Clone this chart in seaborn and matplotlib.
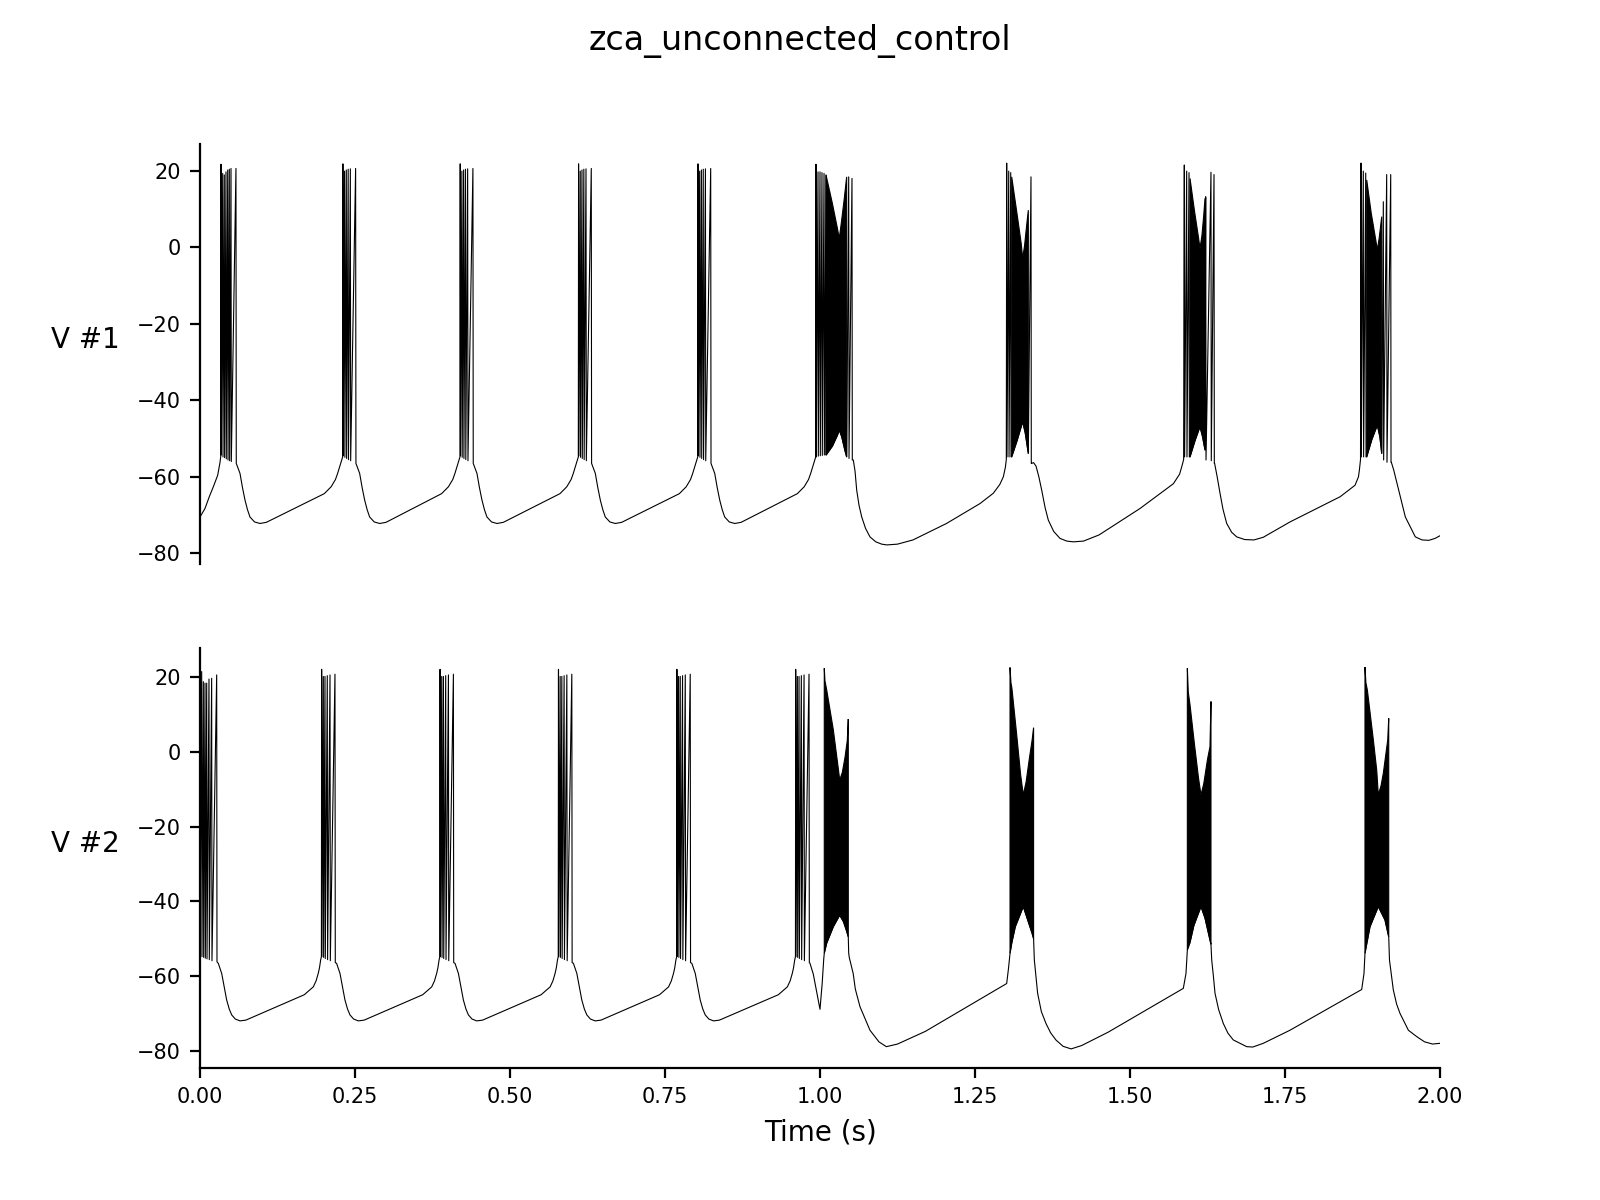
import numpy as np
import matplotlib
matplotlib.use("Agg")
import matplotlib.pyplot as plt
import seaborn as sns

# ---------------- text ----------------
TITLE = "zca_unconnected_control"
YLABELS = ["V #1", "V #2"]
XLABEL = "Time (s)"
XTICKS = [0.0, 0.25, 0.5, 0.75, 1.0, 1.25, 1.5, 1.75, 2.0]
YTICKS = [20, 0, -20, -40, -60, -80]

# ================= trace V #1 =================
v1_start_t = [0.0, 0.008, 0.015, 0.022, 0.0285, 0.032, 0.0334]
v1_start_v = [-70.5, -68.3, -65.2, -62.4, -59.6, -56.5, -54.8]

v1_burst1_t = [0.0339, 0.0366, 0.0392, 0.0419, 0.0447, 0.0473, 0.0500, 0.0580]
v1_burst1_peak = [21.7, 19.3, 18.9, 19.7, 20.2, 20.4, 20.6, 20.6]
v1_burst1_trough = [-54.3, -54.8, -55.0, -55.3, -55.6, -55.8, -56.0, -56.5]

# regular bursts 2-5 (shape, placed at each onset)
v1_reg_onsets = [0.2305, 0.4197, 0.6106, 0.8032]
v1_reg_spike_dt = [0.0, 0.0027, 0.0055, 0.0085, 0.0120, 0.0205]
v1_reg_peak = [21.8, 19.9, 20.2, 20.4, 20.5, 20.6]
v1_reg_trough = [-54.5, -54.9, -55.2, -55.5, -55.8, -56.5]

# after-burst fall (relative to last spike) for bursts 1-5
v1_fall_dt = [0.0035, 0.0065, 0.0105, 0.0146, 0.0186, 0.0226, 0.030, 0.0388, 0.049]
v1_fall_v = [-57.8, -59.1, -62.8, -66.1, -68.6, -70.5, -71.8, -72.2, -71.9]
# pre-burst rise (relative to onset) for bursts 2-6
v1_rise_onsets = [0.2305, 0.4197, 0.6106, 0.8032, 0.9935]
v1_rise_dt = [-0.030, -0.019, -0.012, -0.0085, -0.005, -0.002, -0.0004]
v1_rise_v = [-64.4, -62.6, -60.7, -59.1, -57.2, -55.6, -54.8]

# long bursts 6-9: separate spikes
v1_long_spike_t = [0.9935, 0.9968, 1.0000, 1.0032, 1.0065, 1.0097, 1.0463, 1.0516,
                   1.3011, 1.3044, 1.3076, 1.3403,
                   1.5876, 1.5914, 1.5952, 1.6221, 1.6306, 1.6355,
                   1.8726, 1.8763, 1.8802, 1.9086, 1.9140, 1.9205]
v1_long_spike_peak = [21.7, 19.7, 19.7, 19.5, 19.3, 18.9, 18.4, 18.0,
                      22.0, 19.9, 19.5, 18.4,
                      21.5, 19.9, 19.5, 13.2, 19.6, 19.0,
                      22.0, 19.9, 19.4, 11.9, 19.0, 19.0]
v1_long_spike_trough = [-54.8, -54.6, -54.5, -54.4, -54.3, -54.3, -55.2, -55.6,
                        -54.8, -54.8, -54.8, -56.5,
                        -54.8, -54.8, -54.8, -55.6, -55.8, -56.5,
                        -54.8, -54.8, -54.8, -55.6, -56.2, -56.2]

# long bursts 6-9: dense spiking envelopes
v1_band_up_t = [[1.0097, 1.0199, 1.0280, 1.0311, 1.0345, 1.0390, 1.0430],
                [1.3092, 1.3180, 1.3245, 1.3269, 1.3300, 1.3335, 1.3360],
                [1.5968, 1.6040, 1.6105, 1.6129, 1.6160, 1.6190, 1.6210],
                [1.8818, 1.8890, 1.8965, 1.8989, 1.9020, 1.9060]]
v1_band_up_v = [[18.9, 11.5, 5.0, 2.3, 6.5, 12.5, 18.4],
                [18.4, 8.5, 1.0, -2.9, 0.5, 6.0, 9.7],
                [18.0, 9.5, 2.5, -0.3, 3.0, 8.5, 12.8],
                [17.6, 9.0, 1.8, -0.7, 2.5, 8.0]]
v1_band_lo_t = [[1.0097, 1.0200, 1.0280, 1.0311, 1.0350, 1.0400, 1.0430],
                [1.3092, 1.3180, 1.3269, 1.3310, 1.3360],
                [1.5968, 1.6050, 1.6129, 1.6170, 1.6210],
                [1.8818, 1.8900, 1.8989, 1.9030, 1.9060]]
v1_band_lo_v = [[-54.3, -52.0, -49.2, -47.8, -49.5, -53.0, -54.8],
                [-54.8, -50.5, -45.6, -48.5, -53.9],
                [-54.8, -50.5, -46.9, -49.5, -53.0],
                [-54.8, -50.3, -46.5, -49.5, -53.9]]

# long cycles: sub-threshold voltage
v1_long_sub_t = [1.0537, 1.0565, 1.0592, 1.0630, 1.0673, 1.0735, 1.0806, 1.0900, 1.0995, 1.1080,
                 1.1250, 1.1500, 1.2040, 1.2580, 1.2795, 1.2900, 1.2957, 1.2990, 1.3005,
                 1.3410, 1.3445, 1.3484, 1.3530, 1.3576, 1.3630, 1.3682, 1.3770, 1.3871, 1.3980,
                 1.4086, 1.4250, 1.4500, 1.5160, 1.5700, 1.5800, 1.5834, 1.5865,
                 1.6365, 1.6406, 1.6452, 1.6500, 1.6560, 1.6640, 1.6721, 1.6850, 1.7000, 1.7150,
                 1.7580, 1.8390, 1.8630, 1.8685, 1.8700, 1.8718,
                 1.9215, 1.9253, 1.9334, 1.9441, 1.9602, 1.9710, 1.9820, 1.9920, 2.0000]
v1_long_sub_v = [-55.6, -58.5, -63.5, -67.5, -70.5, -73.5, -75.7, -77.0, -77.6, -77.8,
                 -77.6, -76.5, -72.2, -67.0, -64.3, -62.0, -60.0, -57.5, -55.5,
                 -56.5, -56.3, -57.2, -60.0, -63.5, -68.0, -71.3, -74.3, -76.1, -76.8,
                 -77.0, -76.8, -75.2, -68.3, -61.8, -59.3, -57.4, -55.5,
                 -56.5, -60.0, -64.3, -68.5, -72.2, -74.5, -75.7, -76.4, -76.5, -75.8,
                 -71.8, -65.2, -62.2, -60.0, -58.2, -55.5,
                 -56.2, -58.2, -63.5, -70.5, -75.7, -76.5, -76.6, -76.1, -75.4]

# ================= trace V #2 =================
v2_start_t = [0.0]
v2_start_v = [-55.5]

v2_burst1_t = [0.0027, 0.0054, 0.0081, 0.0108, 0.0145, 0.0188, 0.0269]
v2_burst1_peak = [21.5, 18.8, 18.4, 18.4, 19.5, 19.7, 20.6]
v2_burst1_trough = [-54.8, -55.0, -55.2, -55.4, -55.6, -55.9, -56.2]

v2_reg_onsets = [0.1962, 0.3872, 0.5782, 0.7692, 0.9608]
v2_reg_spike_dt = [0.0, 0.0027, 0.0054, 0.0091, 0.0135, 0.0215]
v2_reg_peak = [22.1, 20.2, 20.2, 20.4, 20.6, 20.8]
v2_reg_trough = [-54.8, -55.0, -55.3, -55.6, -55.9, -56.4]

v2_fall_lastspikes = [0.0269, 0.2177, 0.4087, 0.5997, 0.7907]
v2_fall_dt = [0.0026, 0.0081, 0.0121, 0.0161, 0.0202, 0.0242, 0.030, 0.0376, 0.047]
v2_fall_v = [-56.6, -59.3, -62.8, -66.4, -68.8, -70.4, -71.5, -72.0, -71.8]
v2_rise_dt = [-0.028, -0.0135, -0.009, -0.0055, -0.0035, -0.0016, -0.0004]
v2_rise_v = [-65.0, -62.9, -61.3, -59.3, -57.8, -55.7, -54.8]

v2_band_up_t = [[1.0069, 1.0080, 1.0108, 1.0215, 1.0280, 1.0318, 1.0360, 1.0403, 1.0440, 1.0456],
                [1.3065, 1.3080, 1.3095, 1.3170, 1.3235, 1.3279, 1.3325, 1.3375, 1.3420, 1.3445],
                [1.5925, 1.5940, 1.5968, 1.6040, 1.6105, 1.6145, 1.6190, 1.6250, 1.6290, 1.6306],
                [1.8790, 1.8805, 1.8828, 1.8925, 1.8980, 1.9005, 1.9050, 1.9086, 1.9157, 1.9173]]
v2_band_up_v = [[22.4, 19.0, 16.6, 5.9, -2.5, -7.5, -5.5, -1.5, 3.0, 8.8],
                [22.6, 18.5, 17.1, 5.0, -6.0, -11.5, -8.0, -2.0, 3.0, 6.5],
                [22.4, 16.0, 12.6, 2.0, -7.0, -11.5, -8.5, -2.0, 1.4, 13.5],
                [22.7, 18.5, 16.6, 3.2, -5.0, -11.5, -9.0, -5.7, 3.2, 9.0]]
v2_band_lo_t = [[1.0069, 1.0108, 1.0215, 1.0318, 1.0380, 1.0430, 1.0456],
                [1.3065, 1.3095, 1.3150, 1.3279, 1.3340, 1.3420, 1.3445],
                [1.5925, 1.5968, 1.6030, 1.6145, 1.6210, 1.6290, 1.6306],
                [1.8790, 1.8871, 1.9005, 1.9113, 1.9173]]
v2_band_lo_v = [[-53.9, -51.2, -46.8, -43.7, -45.5, -48.0, -49.5],
                [-53.9, -51.0, -46.8, -41.4, -44.5, -48.5, -50.0],
                [-53.0, -51.0, -46.5, -41.4, -44.5, -50.4, -51.5],
                [-53.9, -46.8, -41.4, -45.0, -49.5]]

v2_long_sub_t = [0.9839, 0.9892, 0.9950, 1.0000, 1.0035, 1.0060,
                 1.0463, 1.0472, 1.0535, 1.0570, 1.0645, 1.0806, 1.0950, 1.1070, 1.1250, 1.1700,
                 1.3011, 1.3040, 1.3058,
                 1.3457, 1.3510, 1.3570, 1.3645, 1.3720, 1.3805, 1.3920, 1.4050, 1.4220, 1.4650,
                 1.5860, 1.5903, 1.5918,
                 1.6318, 1.6345, 1.6371, 1.6430, 1.6505, 1.6580, 1.6666, 1.6882, 1.6980, 1.7150,
                 1.7580, 1.8737, 1.8774, 1.8785,
                 1.9185, 1.9247, 1.9300, 1.9355, 1.9490, 1.9624, 1.9750, 1.9880, 2.0000]
v2_long_sub_v = [-56.6, -59.5, -64.5, -68.9, -62.0, -55.5,
                 -53.9, -55.0, -59.3, -63.5, -68.2, -74.5, -77.6, -78.9, -78.2, -74.8,
                 -62.0, -58.0, -55.0,
                 -55.7, -64.6, -69.5, -72.7, -75.2, -77.1, -78.8, -79.5, -78.6, -75.0,
                 -63.3, -59.3, -55.0,
                 -55.7, -60.0, -64.6, -69.0, -72.7, -75.3, -77.1, -78.9, -79.0, -78.0,
                 -74.5, -63.6, -59.3, -55.5,
                 -55.7, -63.7, -67.5, -70.0, -74.5, -76.2, -77.6, -78.2, -78.0]


def spikes_to_points(ts, peaks, troughs):
    pts = []
    for t, p, tr in zip(ts, peaks, troughs):
        pts.append((t, p))
        pts.append((t + 0.0005, tr))
    return pts


def build_trace(start_t, start_v, b1_t, b1_p, b1_tr, reg_on, reg_dt, reg_p, reg_tr,
                fall_last, fall_dt, fall_v, rise_on, rise_dt, rise_v,
                long_sp, band_lo_t, band_lo_v, sub_t, sub_v):
    pts = list(zip(start_t, start_v))
    pts += spikes_to_points(b1_t, b1_p, b1_tr)
    for o in reg_on:
        pts += spikes_to_points([o + d for d in reg_dt], reg_p, reg_tr)
    for l in fall_last:
        pts += [(l + d, v) for d, v in zip(fall_dt, fall_v)]
    for o in rise_on:
        pts += [(o + d, v) for d, v in zip(rise_dt, rise_v)]
    if long_sp is not None:
        pts += spikes_to_points(*long_sp)
    for lt, lv in zip(band_lo_t, band_lo_v):
        pts += list(zip(lt, lv))
    pts += list(zip(sub_t, sub_v))
    pts.sort(key=lambda p: p[0])
    arr = np.array(pts)
    return arr[:, 0], arr[:, 1]


v1_last = [v1_burst1_t[-1]] + [o + v1_reg_spike_dt[-1] for o in v1_reg_onsets]
t1, y1 = build_trace(v1_start_t, v1_start_v, v1_burst1_t, v1_burst1_peak, v1_burst1_trough,
                     v1_reg_onsets, v1_reg_spike_dt, v1_reg_peak, v1_reg_trough,
                     v1_last, v1_fall_dt, v1_fall_v, v1_rise_onsets, v1_rise_dt, v1_rise_v,
                     (v1_long_spike_t, v1_long_spike_peak, v1_long_spike_trough),
                     v1_band_lo_t, v1_band_lo_v, v1_long_sub_t, v1_long_sub_v)
t2, y2 = build_trace(v2_start_t, v2_start_v, v2_burst1_t, v2_burst1_peak, v2_burst1_trough,
                     v2_reg_onsets, v2_reg_spike_dt, v2_reg_peak, v2_reg_trough,
                     v2_fall_lastspikes, v2_fall_dt, v2_fall_v, v2_reg_onsets, v2_rise_dt, v2_rise_v,
                     None, v2_band_lo_t, v2_band_lo_v, v2_long_sub_t, v2_long_sub_v)

# ---------------- style ----------------
sns.set_style("ticks", rc={"axes.edgecolor": "black", "xtick.color": "black",
                           "ytick.color": "black", "text.color": "black",
                           "axes.labelcolor": "black"})
plt.rcParams["font.family"] = ["DejaVu Sans"]

fig, axes = plt.subplots(2, 1, figsize=(8, 6), dpi=200, sharex=True)
LW = 0.4

traces = [(t1, y1, v1_band_up_t, v1_band_up_v, v1_band_lo_t, v1_band_lo_v),
          (t2, y2, v2_band_up_t, v2_band_up_v, v2_band_lo_t, v2_band_lo_v)]
for ax, (t, y, ut, uv, lt, lv), lab in zip(axes, traces, YLABELS):
    sns.lineplot(x=t, y=y, ax=ax, color="black", linewidth=LW, estimator=None,
                 sort=False, errorbar=None)
    for a, b, c, d in zip(ut, uv, lt, lv):
        ax.fill(np.r_[a, c[::-1]], np.r_[b, d[::-1]], facecolor="black",
                edgecolor="black", linewidth=LW)
    ax.set_yticks(YTICKS)
    ax.set_ylabel(lab, rotation=0, ha="right", labelpad=6, fontsize=10)
    ax.tick_params(axis="both", labelsize=7.5)
    sns.despine(ax=ax)

axes[0].spines["bottom"].set_visible(False)
axes[0].tick_params(axis="x", bottom=False, labelbottom=False)
axes[1].set_xlim(0, 2)
axes[1].set_xticks(XTICKS)
axes[1].set_xticklabels([f"{x:.2f}" for x in XTICKS])
axes[1].set_xlabel(XLABEL, fontsize=10)
fig.suptitle(TITLE, fontsize=12)

fig.savefig("out.png", dpi=200)
